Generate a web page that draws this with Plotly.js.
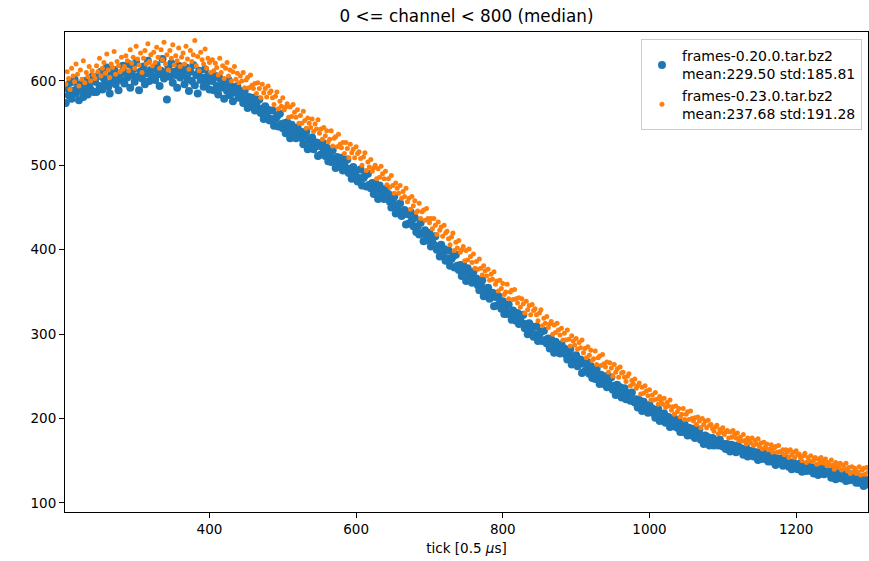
<!DOCTYPE html>
<html>
<head>
<meta charset="utf-8">
<script src="https://cdn.plot.ly/plotly-3.0.1.min.js"></script>
<style>html,body{margin:0;padding:0;background:#fff;}#chart{width:869px;height:561px;}</style>
</head>
<body>
<div id="chart"></div>
<script>
// tick axis: first tick and spacing of the sampled points
const tickFirst = 204;
const tickStep = 2;

// frames-0.20.0.tar.bz2 (median over channels)
const seriesA = [
  574, 591, 583, 598, 579, 588, 602, 585, 593, 577, 596, 589, 581, 600, 592, 584, 597, 590, 605, 587,
  599, 587, 606, 594, 611, 590, 603, 598, 616, 593, 585, 607, 600, 613, 596, 604, 589, 609, 601, 618,
  597, 610, 604, 620, 592, 607, 614, 599, 622, 605, 589, 611, 603, 617, 596, 609, 624, 600, 613, 606,
  615, 601, 619, 608, 594, 612, 626, 603, 610, 578, 617, 605, 621, 598, 611, 607, 592, 618, 604, 613,
  609, 596, 616, 603, 588, 611, 600, 619, 595, 607, 585, 612, 601, 604, 593, 614, 598, 606, 590, 602,
  600, 589, 606, 594, 584, 603, 592, 598, 579, 595, 588, 601, 583, 593, 576, 590, 586, 594, 580, 588,
  583, 574, 588, 577, 568, 581, 575, 570, 580, 565, 573, 567, 578, 562, 567, 555, 570, 560, 566, 553,
  555, 565, 547, 555, 558, 546, 561, 549, 544, 550, 538, 551, 543, 532, 548, 538, 543, 532, 545, 537,
  540, 532, 525, 535, 540, 519, 529, 523, 533, 519, 523, 527, 511, 523, 513, 527, 517, 511, 521, 505,
  513, 504, 518, 507, 497, 510, 504, 499, 509, 494, 502, 496, 507, 491, 496, 484, 498, 488, 494, 481,
  485, 495, 476, 485, 488, 475, 490, 477, 473, 479, 466, 479, 472, 460, 476, 465, 470, 460, 472, 464,
  466, 457, 450, 459, 463, 443, 452, 446, 455, 440, 444, 447, 430, 442, 431, 445, 435, 428, 438, 421,
  428, 418, 432, 420, 410, 423, 416, 411, 420, 404, 413, 406, 416, 400, 404, 392, 406, 395, 401, 387,
  390, 399, 381, 389, 392, 379, 394, 381, 376, 382, 369, 382, 374, 363, 378, 367, 372, 361, 374, 365,
  366, 358, 352, 360, 364, 345, 354, 347, 355, 342, 345, 349, 333, 344, 334, 345, 337, 330, 339, 324,
  332, 324, 335, 325, 317, 328, 322, 316, 325, 312, 319, 313, 323, 307, 312, 300, 313, 304, 309, 297,
  300, 309, 292, 300, 303, 292, 304, 293, 289, 295, 283, 294, 288, 278, 291, 282, 287, 277, 288, 281,
  283, 276, 270, 278, 282, 264, 273, 267, 275, 262, 266, 270, 254, 265, 256, 268, 260, 253, 262, 248,
  255, 247, 259, 249, 241, 252, 246, 241, 250, 237, 245, 239, 249, 234, 239, 228, 240, 231, 237, 225,
  229, 236, 223, 229, 230, 221, 231, 222, 219, 223, 213, 222, 217, 209, 220, 213, 215, 207, 216, 210,
  212, 206, 201, 208, 211, 197, 203, 199, 206, 195, 199, 202, 190, 198, 191, 200, 194, 189, 196, 184,
  190, 184, 193, 186, 180, 189, 184, 180, 188, 177, 183, 179, 187, 175, 179, 170, 180, 174, 178, 168,
  172, 177, 168, 173, 174, 168, 175, 169, 167, 170, 164, 170, 166, 161, 169, 164, 166, 160, 168, 163,
  165, 161, 157, 163, 165, 155, 160, 157, 162, 155, 157, 160, 151, 158, 152, 160, 155, 152, 157, 149,
  153, 149, 156, 150, 145, 153, 149, 147, 153, 144, 150, 146, 152, 143, 147, 140, 148, 143, 146, 140,
  141, 147, 137, 143, 145, 138, 146, 139, 138, 142, 135, 142, 139, 133, 142, 136, 139, 134, 141, 137,
  138, 134, 130, 136, 139, 128, 134, 130, 136, 129, 131, 134, 126, 132, 127, 134, 130, 127, 132, 124,
  128, 124, 131, 125, 120, 128, 124, 122
];

// frames-0.23.0.tar.bz2 (median over channels)
const seriesB = [
  596, 611, 603, 590, 615, 606, 599, 620, 608, 594, 613, 602, 624, 598, 610, 605, 617, 600, 612, 607,
  603, 618, 611, 627, 606, 615, 622, 609, 632, 613, 604, 620, 616, 635, 608, 623, 618, 611, 628, 614,
  617, 630, 624, 612, 637, 621, 628, 615, 641, 626, 619, 633, 610, 627, 636, 620, 644, 623, 631, 618,
  634, 622, 640, 628, 615, 637, 625, 646, 620, 631, 613, 636, 627, 643, 619, 630, 624, 639, 617, 628,
  633, 620, 641, 626, 614, 636, 623, 631, 648, 618, 629, 612, 634, 625, 620, 638, 615, 627, 622, 610,
  625, 612, 621, 616, 607, 627, 610, 618, 603, 615, 622, 606, 613, 600, 611, 617, 602, 609, 598, 606,
  600, 610, 592, 601, 604, 592, 607, 595, 591, 597, 585, 598, 591, 580, 596, 586, 591, 581, 594, 586,
  588, 580, 572, 582, 587, 567, 576, 570, 580, 566, 569, 573, 557, 569, 558, 572, 563, 557, 566, 550,
  559, 550, 564, 553, 544, 556, 550, 545, 555, 540, 549, 543, 554, 538, 543, 531, 545, 535, 541, 528,
  531, 541, 523, 532, 534, 522, 537, 525, 521, 527, 514, 527, 520, 509, 525, 515, 519, 509, 522, 514,
  516, 508, 500, 510, 515, 494, 504, 498, 507, 493, 497, 500, 484, 496, 486, 499, 490, 484, 493, 477,
  484, 474, 488, 476, 467, 479, 473, 467, 476, 461, 469, 463, 473, 457, 461, 448, 463, 452, 458, 444,
  446, 455, 437, 445, 447, 435, 449, 437, 432, 437, 425, 437, 429, 418, 433, 423, 427, 416, 429, 420,
  422, 413, 406, 415, 420, 399, 409, 402, 411, 397, 400, 404, 387, 399, 388, 401, 392, 385, 395, 378,
  386, 377, 389, 378, 370, 381, 375, 369, 377, 364, 371, 365, 374, 359, 363, 351, 364, 354, 360, 347,
  350, 359, 342, 350, 352, 341, 353, 342, 337, 343, 332, 342, 336, 325, 339, 329, 334, 323, 335, 328,
  330, 323, 316, 325, 329, 310, 319, 313, 321, 308, 312, 315, 300, 311, 302, 313, 305, 299, 307, 293,
  301, 293, 305, 294, 286, 298, 292, 287, 295, 282, 290, 284, 293, 278, 283, 272, 285, 275, 281, 269,
  271, 280, 264, 272, 274, 263, 276, 265, 261, 267, 255, 266, 260, 250, 264, 255, 259, 249, 261, 254,
  255, 249, 244, 250, 253, 239, 245, 241, 247, 236, 239, 242, 229, 237, 230, 239, 233, 227, 234, 222,
  228, 222, 231, 223, 217, 226, 221, 217, 224, 213, 219, 215, 222, 210, 214, 205, 215, 208, 212, 202,
  205, 212, 199, 205, 208, 199, 209, 200, 197, 201, 193, 202, 197, 189, 200, 193, 197, 189, 198, 192,
  193, 188, 185, 190, 192, 182, 187, 184, 189, 181, 184, 186, 177, 184, 178, 186, 181, 177, 183, 174,
  178, 173, 181, 174, 170, 177, 174, 171, 177, 168, 174, 170, 176, 167, 171, 164, 172, 166, 170, 163,
  164, 169, 160, 165, 167, 160, 168, 161, 160, 163, 157, 163, 160, 154, 163, 157, 160, 154, 162, 157,
  158, 154, 150, 156, 159, 148, 154, 150, 156, 149, 151, 154, 146, 152, 147, 154, 150, 147, 152, 144,
  148, 144, 151, 145, 140, 148, 144, 142, 147, 139, 145, 141, 147, 138, 142, 135, 143, 137, 141, 135,
  137, 143, 133, 139, 141, 134, 142, 136
];

const nameA = 'frames-0.20.0.tar.bz2<br>mean:229.50 std:185.81';
const nameB = 'frames-0.23.0.tar.bz2<br>mean:237.68 std:191.28';

const xTickVals = [400, 600, 800, 1000, 1200];
const yTickVals = [100, 200, 300, 400, 500, 600];

const font = 'DejaVu Sans, sans-serif';

const traces = [
  {
    type: 'scatter', mode: 'markers', name: nameA,
    x0: tickFirst, dx: tickStep, y: seriesA,
    marker: {color: '#1f77b4', size: 8, line: {width: 0}}
  },
  {
    type: 'scatter', mode: 'markers', name: nameB,
    x0: tickFirst, dx: tickStep, y: seriesB,
    marker: {color: '#ff7f0e', size: 5, line: {width: 0}}
  }
];

const axisCommon = {
  showline: true, mirror: true, linecolor: '#000', linewidth: 1,
  ticks: 'outside', ticklen: 5, tickwidth: 1, tickcolor: '#000',
  showgrid: false, zeroline: false,
  tickfont: {family: font, size: 13.5, color: '#000'}
};

const layout = {
  width: 869, height: 561,
  paper_bgcolor: '#fff', plot_bgcolor: '#fff',
  margin: {l: 65, r: 1, t: 32, b: 49},
  title: {text: '0 <= channel < 800 (median)', font: {family: font, size: 16.8, color: '#000'},
          x: 0.5, xanchor: 'center', y: 0.972, yanchor: 'middle', xref: 'paper'},
  xaxis: Object.assign({}, axisCommon, {
    range: [203, 1298], tickvals: xTickVals,
    title: {text: 'tick [0.5 <i>μ</i>s]', font: {family: font, size: 13.5, color: '#000'}, standoff: 7}
  }),
  yaxis: Object.assign({}, axisCommon, {
    range: [89.3, 658], tickvals: yTickVals
  }),
  showlegend: true,
  legend: {
    x: 0.9925, y: 0.985, xanchor: 'right', yanchor: 'top',
    bgcolor: 'rgba(255,255,255,0.8)', bordercolor: '#cccccc', borderwidth: 1,
    font: {family: font, size: 14, color: '#000'},
    itemsizing: 'trace', tracegroupgap: 0
  }
};

Plotly.newPlot('chart', traces, layout, {displayModeBar: false, staticPlot: true});
</script>
</body>
</html>
